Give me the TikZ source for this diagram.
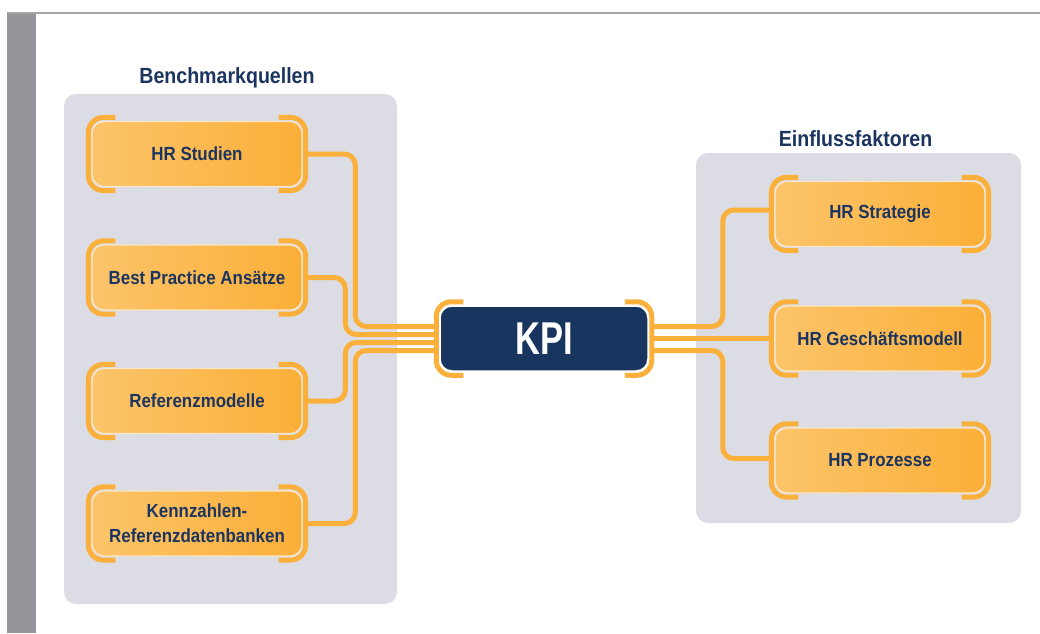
\documentclass[tikz,border=0pt]{standalone}
\usepackage{fontspec}
\setmainfont{Liberation Sans}
\newfontfamily\lblfont{Liberation Sans}[FakeStretch=0.89]
\newfontfamily\kpifont{Liberation Sans}[FakeStretch=0.75]
\usetikzlibrary{calc}
\definecolor{navy}{HTML}{1B3560}
\definecolor{kpiblue}{HTML}{17355E}
\definecolor{orng}{HTML}{FBB03B}
\definecolor{orngL}{HTML}{FCC46A}
\definecolor{orngR}{HTML}{FBAF38}
\definecolor{panel}{HTML}{DCDCE4}
\definecolor{barg}{HTML}{939598}
\definecolor{boxline}{HTML}{F8E6C8}
\newcommand\drawbrackets[1]{%
  \draw[brk] ($(#1.north west)+(24pt,3.5pt)$) -- ($(#1.north west)+(-3pt,3.5pt)$) -- ($(#1.south west)+(-3pt,-3.5pt)$) -- ($(#1.south west)+(24pt,-3.5pt)$);
  \draw[brk] ($(#1.north east)+(-24pt,3.5pt)$) -- ($(#1.north east)+(3pt,3.5pt)$) -- ($(#1.south east)+(3pt,-3.5pt)$) -- ($(#1.south east)+(-24pt,-3.5pt)$);}
\begin{document}
\begin{tikzpicture}[x=1pt,y=-1pt,
  box/.style={rounded corners=12pt, minimum width=210pt, minimum height=65pt,
    left color=orngL, right color=orngR, draw=boxline, line width=1.2pt,
    text=navy, font=\lblfont\bfseries\fontsize{19}{25}\selectfont, align=center, inner sep=0pt},
  kpibox/.style={rounded corners=12pt, minimum width=208pt, minimum height=65pt,
    fill=kpiblue, draw=white, line width=1.5pt, text=white,
    font=\kpifont\bfseries\fontsize{46}{46}\selectfont, inner sep=0pt},
  panelbg/.style={fill=panel, rounded corners=12pt},
  ttl/.style={text=navy, font=\lblfont\bfseries\fontsize{22}{26}\selectfont, inner sep=0pt, anchor=base},
  conn/.style={draw=orng, line width=5pt, rounded corners=11pt},
  brk/.style={draw=orng, line width=5pt, rounded corners=15pt}]
\useasboundingbox (0,0) rectangle (1040,633);
% frame
\fill[barg] (7,13) rectangle (36,633);
\draw[color=black!35, line width=1.5pt] (7,13) -- (1040,13);
% panels
\fill[panelbg] (64,94) rectangle (397,604);
\fill[panelbg] (696,153) rectangle (1021,523);
% titles
\node[ttl] (t1) at (227,83.5) {Benchmarkquellen};
\node[ttl] (t2) at (855.5,146) {Einflussfaktoren};
% nodes
\node[box] (hs) at (197,154) {HR Studien};
\node[box] (bp) at (197,277.5) {Best Practice Ansätze};
\node[box] (rm) at (197,401) {Referenzmodelle};
\node[box] (kz) at (197,523.5) {Kennzahlen-\\Referenzdatenbanken};
\node[kpibox] (kpi) at (544,338.5) {KPI};
\node[box] (hst) at (880,214) {HR Strategie};
\node[box] (hgm) at (880,338.5) {HR Geschäftsmodell};
\node[box] (hpr) at (880,460.5) {HR Prozesse};
% brackets
\drawbrackets{hs}
\drawbrackets{bp}
\drawbrackets{rm}
\drawbrackets{kz}
\drawbrackets{kpi}
\drawbrackets{hst}
\drawbrackets{hgm}
\drawbrackets{hpr}
% connectors left
\draw[conn] ($(hs.east)+(5pt,0)$) -| ($(kpi.west)+(-84pt,12pt)$) -- ($(kpi.west)+(-5pt,12pt)$);
\draw[conn] ($(bp.east)+(5pt,0)$) -| ($(kpi.west)+(-94pt,4pt)$) -- ($(kpi.west)+(-5pt,4pt)$);
\draw[conn] ($(rm.east)+(5pt,0)$) -| ($(kpi.west)+(-94pt,-4pt)$) -- ($(kpi.west)+(-5pt,-4pt)$);
\draw[conn] ($(kz.east)+(5pt,0)$) -| ($(kpi.west)+(-84pt,-12pt)$) -- ($(kpi.west)+(-5pt,-12pt)$);
% connectors right
\draw[conn] ($(kpi.east)+(5pt,12pt)$) -- ++(69pt,0) |- ($(hst.west)+(-5pt,4pt)$);
\draw[conn] ($(kpi.east)+(5pt,0)$) -- ($(hgm.west)+(-5pt,0)$);
\draw[conn] ($(kpi.east)+(5pt,-12pt)$) -- ++(69pt,0) |- ($(hpr.west)+(-5pt,2pt)$);
\end{tikzpicture}
\end{document}
